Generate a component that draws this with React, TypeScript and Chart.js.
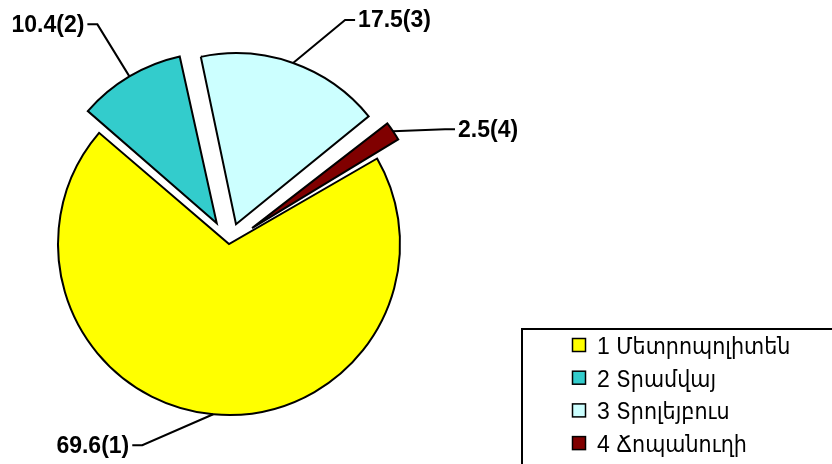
import React, { useEffect, useRef } from "react";
import { Chart, registerables } from "chart.js";

Chart.register(...registerables);

const CATEGORIES = ["1 Մետրոպոլիտեն", "2 Տրամվայ", "3 Տրոլեյբուս", "4 Ճոպանուղի"];
const VALUES = [69.6, 10.4, 17.5, 2.5];
const LABEL_TEXTS = ["69.6(1)", "10.4(2)", "17.5(3)", "2.5(4)"];
const COLORS = ["#FFFF00", "#33CCCC", "#CCFFFF", "#800000"];

// styling: explosion distance (px) per slice and leader-line elbow offsets
const RADIUS = 171;
const EXPLODE = [0, 24, 21, 28];
const ELBOWS = [
  { dx: -71, dy: 31, side: -1 },
  { dx: -32, dy: -52, side: -1 },
  { dx: 52, dy: -43, side: 1 },
  { dx: 52, dy: -2, side: 1 },
];

const FONT = '"Liberation Sans", Arial, "DejaVu Sans", sans-serif';
const LEGEND_FONT = '"Liberation Sans", Arial, "DejaVu Sans Condensed", "DejaVu Sans", sans-serif';

function fixOf(circ: number) {
  return 1 - Math.sin(Math.min(Math.PI, circ || 0));
}

const explodePlugin = {
  id: "explodeFix",
  afterDatasetUpdate(chart: any, args: any) {
    const meta = args.meta || chart.getDatasetMeta(args.index);
    meta.data.forEach((arc: any) => {
      const o = (arc.options.offset || 0) / 4;
      const circ = arc.endAngle - arc.startAngle;
      arc.outerRadius = RADIUS - o * fixOf(circ);
    });
  },
};

function arcGeom(arc: any) {
  const o = (arc.options.offset || 0) / 4;
  const half = (arc.startAngle + arc.endAngle) / 2;
  const circ = arc.endAngle - arc.startAngle;
  const cx = arc.x + Math.cos(half) * o;
  const cy = arc.y + Math.sin(half) * o;
  return { cx, cy, half, r: arc.outerRadius + o * fixOf(circ) };
}

const labelPlugin = {
  id: "leaderLabels",
  afterDatasetsDraw(chart: any) {
    const ctx = chart.ctx;
    const meta = chart.getDatasetMeta(0);
    ctx.save();
    ctx.strokeStyle = "#000";
    ctx.lineWidth = 2;
    ctx.fillStyle = "#000";
    ctx.font = "bold 23px " + FONT;
    ctx.textBaseline = "middle";
    meta.data.forEach((arc: any, i: number) => {
      const g = arcGeom(arc);
      const ax = g.cx + Math.cos(g.half) * g.r;
      const ay = g.cy + Math.sin(g.half) * g.r;
      const e = ELBOWS[i];
      const ex = ax + e.dx;
      const ey = ay + e.dy;
      const hx = ex + e.side * 10;
      ctx.beginPath();
      ctx.moveTo(ax, ay);
      ctx.lineTo(ex, ey);
      ctx.lineTo(hx, ey);
      ctx.stroke();
      ctx.textAlign = e.side < 0 ? "right" : "left";
      ctx.fillText(LABEL_TEXTS[i], hx + e.side * 3, ey + 1);
    });
    ctx.restore();
  },
};

const legendPlugin = {
  id: "boxLegend",
  afterDraw(chart: any) {
    const ctx = chart.ctx;
    const bx = 521;
    const by = 328;
    ctx.save();
    ctx.strokeStyle = "#000";
    ctx.lineWidth = 2;
    ctx.strokeRect(bx + 1, by + 1, 400, 200);
    ctx.font = "23px " + LEGEND_FONT;
    ctx.textBaseline = "middle";
    ctx.textAlign = "left";
    CATEGORIES.forEach((c, i) => {
      const rowY = by + 17.5 + i * 32.7;
      ctx.fillStyle = COLORS[i];
      ctx.fillRect(bx + 51.5, rowY - 7, 13, 13);
      ctx.lineWidth = 1.5;
      ctx.strokeRect(bx + 51.5, rowY - 7, 13, 13);
      ctx.fillStyle = "#000";
      ctx.fillText(c, bx + 76, rowY + 2);
    });
    ctx.restore();
  },
};

export default function App() {
  const ref = useRef<HTMLCanvasElement | null>(null);
  useEffect(() => {
    if (!ref.current) return;
    const chart = new Chart(ref.current, {
      type: "pie",
      data: {
        labels: CATEGORIES,
        datasets: [
          {
            data: VALUES,
            backgroundColor: COLORS,
            borderColor: "#000",
            borderWidth: 2,
            borderJoinStyle: "miter",
            radius: RADIUS,
            offset: EXPLODE.map((d) => d * 4),
          } as any,
        ],
      },
      options: {
        responsive: false,
        animation: false,
        rotation: 60,
        layout: { padding: { left: 0, right: 374, top: 24, bottom: 0 } },
        plugins: {
          legend: { display: false },
          tooltip: { enabled: false },
        },
      },
      plugins: [explodePlugin, labelPlugin, legendPlugin],
    });
    return () => chart.destroy();
  }, []);
  return (
    <div style={{ position: "absolute", left: 0, top: 0, width: 832, height: 464, background: "#fff", overflow: "hidden" }}>
      <canvas ref={ref} width={832} height={464} style={{ display: "block" }} />
    </div>
  );
}
